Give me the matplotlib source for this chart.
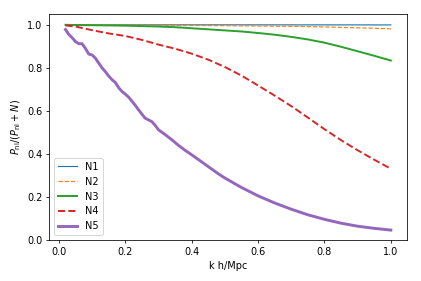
import matplotlib
matplotlib.use("Agg")
from matplotlib import pyplot as plt

# k values and ratios
k_smooth = [0.02, 0.05, 0.1, 0.15, 0.2, 0.25, 0.3, 0.35, 0.4, 0.45, 0.5, 0.55,
            0.6, 0.65, 0.7, 0.75, 0.8, 0.85, 0.9, 0.95, 1.0]
n1 = [1.0, 1.0, 1.0, 1.0, 1.0, 1.0, 1.0, 1.0, 0.9999, 0.9999, 0.9999, 0.9999,
      0.9998, 0.9998, 0.9998, 0.9997, 0.9997, 0.9996, 0.9996, 0.9995, 0.9995]
n2 = [1.0, 1.0, 0.9998, 0.9996, 0.9993, 0.999, 0.998, 0.9975, 0.997, 0.9965,
      0.996, 0.995, 0.9945, 0.9935, 0.993, 0.9915, 0.990, 0.988, 0.986, 0.984, 0.981]
n3 = [1.0, 0.999, 0.998, 0.997, 0.996, 0.994, 0.992, 0.989, 0.984, 0.979, 0.974,
      0.969, 0.962, 0.954, 0.944, 0.932, 0.917, 0.898, 0.877, 0.856, 0.834]
n4 = [0.997, 0.992, 0.975, 0.960, 0.948, 0.930, 0.908, 0.889, 0.866, 0.838, 0.804,
      0.764, 0.718, 0.671, 0.622, 0.569, 0.515, 0.464, 0.417, 0.373, 0.331]

k5 = [0.02, 0.03, 0.04, 0.05, 0.06, 0.07, 0.08, 0.09, 0.10, 0.11, 0.12, 0.13,
      0.14, 0.15, 0.16, 0.17, 0.18, 0.19, 0.20, 0.21, 0.22, 0.23, 0.24, 0.25,
      0.26, 0.27, 0.28, 0.29, 0.30, 0.32, 0.34, 0.36, 0.38, 0.40, 0.42, 0.44,
      0.46, 0.48, 0.50, 0.55, 0.60, 0.65, 0.70, 0.75, 0.80, 0.85, 0.90, 0.95, 1.00]
n5 = [0.978, 0.955, 0.940, 0.922, 0.912, 0.912, 0.890, 0.864, 0.860, 0.845,
      0.822, 0.800, 0.782, 0.762, 0.745, 0.732, 0.708, 0.690, 0.678, 0.664,
      0.645, 0.626, 0.605, 0.585, 0.566, 0.558, 0.550, 0.533, 0.512, 0.490,
      0.466, 0.440, 0.417, 0.396, 0.374, 0.352, 0.330, 0.308, 0.288, 0.244,
      0.205, 0.172, 0.143, 0.117, 0.096, 0.078, 0.064, 0.054, 0.046]

fig, ax = plt.subplots(figsize=(421 / 70, 281 / 70), dpi=70)
ax.plot(k_smooth, n1, label="N1", lw=1.2)
ax.plot(k_smooth, n2, "--", label="N2", lw=1.2)
ax.plot(k_smooth, n3, label="N3", lw=2)
ax.plot(k_smooth, n4, "--", label="N4", lw=2)
ax.plot(k5, n5, label="N5", lw=3)
ax.set_ylim(0, 1.05)
ax.set_xlabel("k h/Mpc")
ax.set_ylabel(r"$P_{\rm nl}/(P_{\rm nl}+N)$")
ax.legend(loc="lower left")
plt.subplots_adjust(left=0.117, right=0.967, top=0.95, bottom=0.146)
plt.savefig("out.png")
